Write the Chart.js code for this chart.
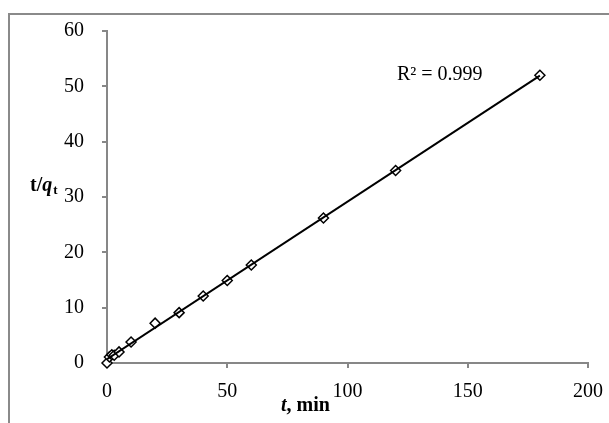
<!DOCTYPE html>
<html>
<head>
<meta charset="utf-8">
<script src="https://cdn.jsdelivr.net/npm/chart.js@4/dist/chart.umd.min.js"></script>
<style>
  html, body { margin: 0; padding: 0; background: #fff; overflow: hidden; }
  #wrap { position: relative; width: 609px; height: 423px; overflow: hidden; }
  #frame {
    position: absolute; left: 8px; top: 13px; width: 700px; height: 500px;
    border: 2px solid #8a8a8a; box-sizing: border-box;
  }
  canvas { position: absolute; left: 0; top: 0; }
</style>
</head>
<body>
<div id="wrap">
  <div id="frame"></div>
  <canvas id="chart" width="609" height="423"></canvas>
</div>
<script>
// Контактное время, мин, и t/qt
const times = [0, 1, 2, 3, 5, 10, 20, 30, 40, 50, 60, 90, 120, 180];
const tOverQ = [0, 1.1, 1.5, 1.4, 2.0, 3.8, 7.2, 9.1, 12.1, 14.9, 17.7, 26.2, 34.8, 52.0];
const xTicks = [0, 50, 100, 150, 200];
const yTicks = [0, 10, 20, 30, 40, 50, 60];
const r2Label = 'R² = 0.999';

const SERIF = "'Times New Roman', 'Liberation Serif', serif";
const AXIS_GRAY = '#878787';

// линейный тренд по методу наименьших квадратов
function linearFit(xs, ys) {
  const n = xs.length;
  const mx = xs.reduce((a, b) => a + b, 0) / n;
  const my = ys.reduce((a, b) => a + b, 0) / n;
  let sxy = 0, sxx = 0;
  for (let i = 0; i < n; i++) {
    sxy += (xs[i] - mx) * (ys[i] - my);
    sxx += (xs[i] - mx) * (xs[i] - mx);
  }
  const slope = sxy / sxx;
  return { slope, intercept: my - slope * mx };
}

const fit = linearFit(times, tOverQ);
const xFirst = times[0];
const xLast = times[times.length - 1];
const trend = [
  { x: xFirst, y: fit.intercept + fit.slope * xFirst },
  { x: xLast, y: fit.intercept + fit.slope * xLast }
];
const points = times.map((t, i) => ({ x: t, y: tOverQ[i] }));

// подписи осей со смешанным начертанием и R²
const labelsPlugin = {
  id: 'labels',
  afterDraw(chart) {
    const ctx = chart.ctx;
    ctx.save();
    ctx.fillStyle = '#000';
    ctx.textBaseline = 'alphabetic';
    ctx.textAlign = 'left';

    // t/q_t
    let x = 30;
    const yb = 191;
    ctx.font = `bold 20px ${SERIF}`;
    ctx.fillText('t/', x, yb);
    x += ctx.measureText('t/').width;
    ctx.font = `italic bold 20px ${SERIF}`;
    ctx.fillText('q', x, yb);
    x += ctx.measureText('q').width;
    ctx.font = `bold 13px ${SERIF}`;
    ctx.fillText('t', x + 1, yb + 3);

    // t, min
    x = 281;
    const xb = 411;
    ctx.font = `italic bold 20px ${SERIF}`;
    ctx.fillText('t', x, xb);
    x += ctx.measureText('t').width;
    ctx.font = `bold 20px ${SERIF}`;
    ctx.fillText(', min', x, xb);

    // коэффициент детерминации
    ctx.font = `20px ${SERIF}`;
    ctx.fillText(r2Label, 397, 80);
    ctx.restore();
  }
};

const ctx = document.getElementById('chart');
new Chart(ctx, {
  type: 'scatter',
  data: {
    datasets: [
      {
        label: 'trend',
        data: trend,
        showLine: true,
        borderColor: '#000',
        borderWidth: 2,
        pointRadius: 0
      },
      {
        label: 't/qt',
        data: points,
        showLine: false,
        clip: false,
        pointStyle: 'rectRot',
        pointRadius: 5,
        pointBorderWidth: 1.5,
        pointBorderColor: '#000',
        pointBackgroundColor: '#fff'
      }
    ]
  },
  options: {
    responsive: false,
    animation: false,
    layout: { padding: { top: 31, right: 21, left: 0, bottom: 0 } },
    plugins: {
      legend: { display: false },
      tooltip: { enabled: false }
    },
    scales: {
      x: {
        type: 'linear',
        min: xTicks[0],
        max: xTicks[xTicks.length - 1],
        afterBuildTicks: s => { s.ticks = xTicks.map(v => ({ value: v })); },
        afterFit: s => { s.height = 60; s.paddingRight = 0; s.paddingLeft = 0; },
        ticks: { color: '#000', font: { family: SERIF, size: 20 }, padding: 12, maxRotation: 0 },
        grid: { drawOnChartArea: false, tickLength: 5, color: AXIS_GRAY, lineWidth: 2 },
        border: { color: AXIS_GRAY, width: 2 }
      },
      y: {
        type: 'linear',
        min: yTicks[0],
        max: yTicks[yTicks.length - 1],
        afterBuildTicks: s => { s.ticks = yTicks.map(v => ({ value: v })); },
        afterFit: s => { s.width = 107; s.paddingTop = 0; s.paddingBottom = 0; },
        ticks: { color: '#000', font: { family: SERIF, size: 20 }, padding: 18 },
        grid: { drawOnChartArea: false, tickLength: 5, color: AXIS_GRAY, lineWidth: 2 },
        border: { color: AXIS_GRAY, width: 2 }
      }
    }
  },
  plugins: [labelsPlugin]
});
</script>
</body>
</html>
